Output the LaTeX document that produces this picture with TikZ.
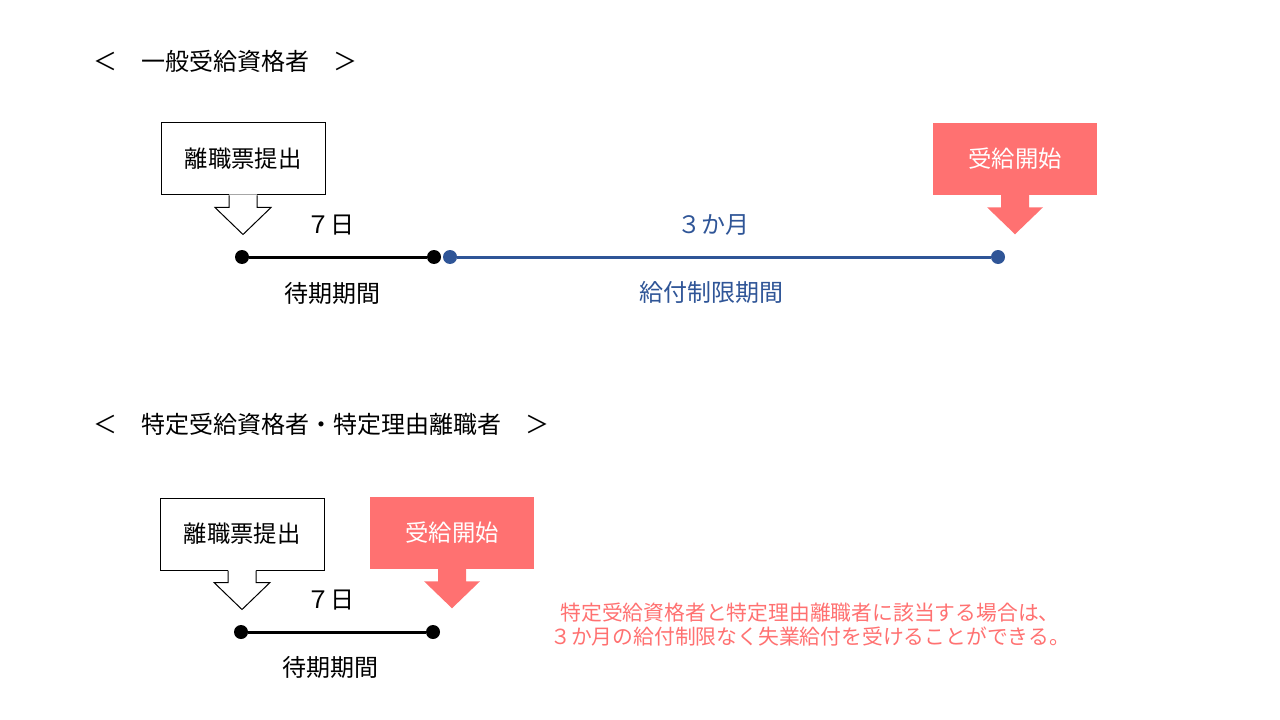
\documentclass[tikz,border=0pt]{standalone}
\usepackage{fontspec}
\setmainfont{Noto Sans CJK JP}
\usetikzlibrary{positioning}
\definecolor{startred}{HTML}{FF7171}
\definecolor{limitblue}{HTML}{2F5597}
\tikzset{
	block/.style={draw, line width=0.75pt, fill=white, minimum width=123pt, minimum height=54pt, font=\fontsize{17.5}{21}\selectfont},
	startblock/.style={fill=startred, text=white, minimum width=123pt, minimum height=54pt, font=\fontsize{17.5}{21}\selectfont},
	txt/.style={inner sep=0pt, font=\fontsize{18}{21}\selectfont},
	dot/.style={circle, fill, inner sep=0pt, minimum size=10.5pt}
}

\begin{document}
\begin{tikzpicture}[x=0.75pt, y=-0.75pt]
		\useasboundingbox (0,0) rectangle (1280,720);
		
		% 一般受給資格者
		\node[txt, anchor=west] (headA) at (93,61) {＜　一般受給資格者　＞};
		
		\node[block] (submitA) at (243,159) {離職票提出};
		\fill[white] (submitA.south) ++(-14,-1) -- ++(0,13) -- ++(-14,0) -- ++(28,27) -- ++(28,-27) -- ++(-14,0) -- ++(0,-13) -- cycle;
		\draw[line width=0.75pt] (submitA.south) ++(-14,0) -- ++(0,12) -- ++(-14,0) -- ++(28,27) -- ++(28,-27) -- ++(-14,0) -- ++(0,-12);
		
		\node[startblock] (startA) at (1015,159) {受給開始};
		\fill[startred] (startA.south) ++(-14,-1) -- ++(0,13) -- ++(-14,0) -- ++(28,27) -- ++(28,-27) -- ++(-14,0) -- ++(0,-13) -- cycle;
		
		\node[dot] (waitA0) at (242,257) {};
		\node[dot] (waitA1) at (434,257) {};
		\node[dot, limitblue] (limitA0) at (450,257) {};
		\node[dot, limitblue] (limitA1) at (998,257) {};
		\draw[line width=2.25pt] (waitA0) -- (waitA1);
		\draw[limitblue, line width=2.25pt] (limitA0) -- (limitA1);
		
		\node[txt] (daysA) at (330,225) {７日};
		\node[txt] (waitTextA) at (332,293) {待期期間};
		\node[txt, limitblue] (monthsA) at (713,225) {３か月};
		\node[txt, limitblue] (limitTextA) at (711,292) {給付制限期間};
		
		% 特定受給資格者・特定理由離職者
		\node[txt, anchor=west] (headB) at (93,424) {＜　特定受給資格者・特定理由離職者　＞};
		
		\node[block] (submitB) at (242,534) {離職票提出};
		\fill[white] (submitB.south) ++(-14,-1) -- ++(0,13) -- ++(-14,0) -- ++(28,27) -- ++(28,-27) -- ++(-14,0) -- ++(0,-13) -- cycle;
		\draw[line width=0.75pt] (submitB.south) ++(-14,0) -- ++(0,12) -- ++(-14,0) -- ++(28,27) -- ++(28,-27) -- ++(-14,0) -- ++(0,-12);
		
		\node[startblock] (startB) at (452,533) {受給開始};
		\fill[startred] (startB.south) ++(-14,-1) -- ++(0,13) -- ++(-14,0) -- ++(28,27) -- ++(28,-27) -- ++(-14,0) -- ++(0,-13) -- cycle;
		
		\node[dot] (waitB0) at (241,632) {};
		\node[dot] (waitB1) at (433,632) {};
		\draw[line width=2.25pt] (waitB0) -- (waitB1);
		
		\node[txt] (daysB) at (330,600) {７日};
		\node[txt] (waitTextB) at (330,667) {待期期間};
		
		\node[txt, startred, align=center, font=\fontsize{15.6}{18}\selectfont] (note) at (810,625) {特定受給資格者と特定理由離職者に該当する場合は、\\３か月の給付制限なく失業給付を受けることができる。};
	\end{tikzpicture}
\end{document}
